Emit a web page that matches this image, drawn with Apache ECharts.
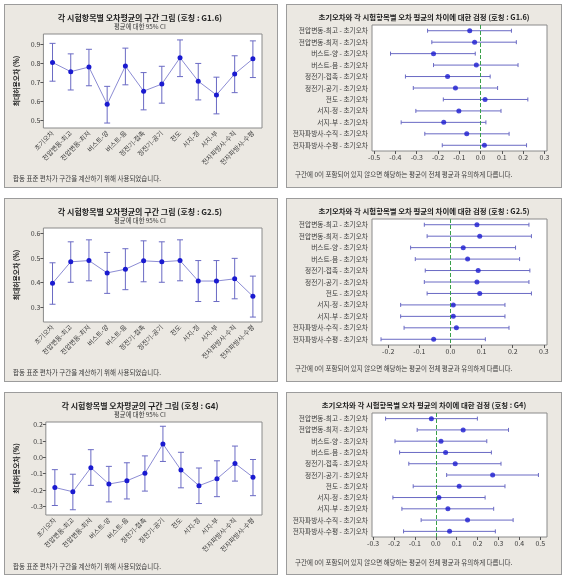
<!DOCTYPE html>
<html><head><meta charset="utf-8">
<script src="https://cdn.jsdelivr.net/npm/echarts@6/dist/echarts.min.js"></script>
<style>
html,body{margin:0;padding:0;background:#fff;width:568px;height:579px;overflow:hidden;}
.p{position:absolute;background:#ebe8e2;border:1px solid #9c9c9c;box-sizing:border-box;}
</style></head><body>
<div id="c1" class="p" style="left:4px;top:4px;width:274px;height:184px"></div>
<div id="c2" class="p" style="left:286px;top:4px;width:276px;height:184px"></div>
<div id="c3" class="p" style="left:4px;top:198px;width:274px;height:184px"></div>
<div id="c4" class="p" style="left:286px;top:198px;width:276px;height:184px"></div>
<div id="c5" class="p" style="left:4px;top:392px;width:274px;height:183px"></div>
<div id="c6" class="p" style="left:286px;top:392px;width:276px;height:183px"></div>
<script>
const categories = ['초기오차','전압변동-최고','전압변동-최저','버스트-양','버스트-음','정전기-접촉','정전기-공기','전도','서지-정','서지-부','전자파방사-수직','전자파방사-수평'];
const diffLabels = ['전압변동-최고 - 초기오차','전압변동-최저 - 초기오차','버스트-양 - 초기오차','버스트-음 - 초기오차','정전기-접촉 - 초기오차','정전기-공기 - 초기오차','전도 - 초기오차','서지-정 - 초기오차','서지-부 - 초기오차','전자파방사-수직 - 초기오차','전자파방사-수평 - 초기오차'];

// G1.6 interval plot
const g16Mean = [0.803,0.755,0.779,0.584,0.784,0.653,0.690,0.828,0.705,0.633,0.743,0.822];
const g16Lo   = [0.705,0.659,0.681,0.486,0.686,0.555,0.590,0.729,0.607,0.534,0.645,0.724];
const g16Hi   = [0.903,0.848,0.872,0.678,0.878,0.750,0.783,0.921,0.798,0.726,0.838,0.916];
const g16Ticks = [0.5,0.6,0.7,0.8,0.9];
// G1.6 differences
const g16DMean = [-0.051,-0.028,-0.221,-0.020,-0.155,-0.118,0.021,-0.102,-0.173,-0.065,0.018];
const g16DLo   = [-0.249,-0.229,-0.423,-0.221,-0.353,-0.316,-0.175,-0.304,-0.373,-0.262,-0.180];
const g16DHi   = [0.145,0.168,-0.025,0.176,0.045,0.080,0.222,0.096,0.025,0.134,0.216];
const g16DTicks = [-0.5,-0.4,-0.3,-0.2,-0.1,0.0,0.1,0.2,0.3];

// G2.5 interval plot
const g25Mean = [0.397,0.484,0.489,0.439,0.454,0.488,0.484,0.489,0.406,0.406,0.415,0.344];
const g25Lo   = [0.312,0.401,0.407,0.356,0.371,0.403,0.401,0.407,0.323,0.323,0.334,0.260];
const g25Hi   = [0.480,0.565,0.573,0.522,0.537,0.569,0.565,0.573,0.489,0.489,0.498,0.426];
const g25Ticks = [0.3,0.4,0.5,0.6];
// G2.5 differences
const g25DMean = [0.085,0.094,0.041,0.055,0.089,0.085,0.094,0.009,0.009,0.019,-0.054];
const g25DLo   = [-0.084,-0.075,-0.128,-0.113,-0.081,-0.084,-0.075,-0.160,-0.160,-0.149,-0.223];
const g25DHi   = [0.252,0.260,0.209,0.222,0.255,0.252,0.260,0.175,0.175,0.188,0.112];
const g25DTicks = [-0.2,-0.1,0.0,0.1,0.2,0.3];

// G4 interval plot
const g4Mean = [-0.184,-0.210,-0.063,-0.163,-0.143,-0.097,0.082,-0.077,-0.173,-0.131,-0.037,-0.121];
const g4Lo   = [-0.294,-0.320,-0.171,-0.272,-0.254,-0.206,-0.025,-0.186,-0.282,-0.240,-0.145,-0.234];
const g4Hi   = [-0.075,-0.103,0.047,-0.055,-0.033,0.009,0.190,0.031,-0.065,-0.021,0.069,-0.013];
const g4Ticks = [-0.3,-0.2,-0.1,0.0,0.1,0.2];
// G4 differences
const g4DMean = [-0.021,0.131,0.025,0.047,0.093,0.272,0.112,0.015,0.058,0.152,0.066];
const g4DLo   = [-0.240,-0.089,-0.195,-0.173,-0.129,0.052,-0.108,-0.205,-0.162,-0.070,-0.154];
const g4DHi   = [0.199,0.348,0.244,0.266,0.312,0.491,0.331,0.236,0.277,0.370,0.285];
const g4DTicks = [-0.3,-0.2,-0.1,0.0,0.1,0.2,0.3,0.4,0.5];

const FONT = "'Noto Sans CJK KR', 'Noto Sans', sans-serif";
const DOT = '#1a1ad0';
const BAR = '#6a6ac4';
const LINE = '#8c8cd4';
const TXT = '#3a3a3a';
const leftNote = '합동 표준 편차가 구간을 계산하기 위해 사용되었습니다.';
const rightNote = '구간에 0이 포함되어 있지 않으면 해당하는 평균이 전체 평균과 유의하게 다릅니다.';

function txt(x, y, s, size, bold, align) {
  return {type:'text', x:x, y:y, silent:true,
    style:{text:s, fontSize:size, fontWeight:bold?'bold':'normal', fill:bold?'#222':TXT, fontFamily:FONT,
      textAlign:align||'left', textVerticalAlign:'middle'}};
}

function leftChart(id, code, mean, lo, hi, yMin, yMax, ticks) {
  const ch = echarts.init(document.getElementById(id), null, {renderer:'canvas'});
  ch.setOption({
    animation:false,
    textStyle:{fontFamily:FONT},
    graphic:[
      txt(135, 13, '각 시험항목별 오차평균의 구간 그림 (호칭 : ' + code + ')', 8, true, 'center'),
      txt(135, 21.5, '평균에 대한 95% CI', 6.3, false, 'center'),
      txt(8, 174, leftNote, 6.5, false, 'left')
    ],
    grid:{left:29, right:15, top:29, bottom:59, show:true, backgroundColor:'#fff', borderColor:'#8a8a8a', borderWidth:1},
    xAxis:{type:'category', data:categories, boundaryGap:true,
      axisLine:{show:false}, axisTick:{alignWithLabel:true, length:3, lineStyle:{color:'#555'}},
      axisLabel:{rotate:45, fontSize:6.6, color:TXT, margin:4, interval:0, fontFamily:FONT}},
    yAxis:{type:'value', min:yMin, max:yMax, splitLine:{show:false},
      name:'최대허용오차 (%)', nameLocation:'middle', nameGap:17, nameRotate:90,
      nameTextStyle:{fontSize:6.8, fontWeight:'bold', color:'#222', fontFamily:FONT},
      axisLine:{show:false}, axisTick:{show:true, length:3, customValues:ticks, lineStyle:{color:'#555'}},
      axisLabel:{customValues:ticks, fontSize:7, color:TXT, margin:3, formatter:v=>(+v).toFixed(1)}},
    series:[
      {type:'line', data:mean, symbol:'circle', symbolSize:5, lineStyle:{color:LINE, width:1},
        itemStyle:{color:DOT}, z:3},
      {type:'custom', z:2, data:categories.map((c,i)=>[i, lo[i], hi[i]]),
        renderItem:function(params, api){
          const a = api.coord([api.value(0), api.value(1)]);
          const b = api.coord([api.value(0), api.value(2)]);
          const w = 3;
          const st = {stroke:BAR, lineWidth:1};
          return {type:'group', children:[
            {type:'line', shape:{x1:a[0], y1:a[1], x2:b[0], y2:b[1]}, style:st},
            {type:'line', shape:{x1:a[0]-w, y1:a[1], x2:a[0]+w, y2:a[1]}, style:st},
            {type:'line', shape:{x1:b[0]-w, y1:b[1], x2:b[0]+w, y2:b[1]}, style:st}
          ]};
        }}
    ]
  });
}

function rightChart(id, code, mean, lo, hi, xMin, xMax, ticks, bottom) {
  const ch = echarts.init(document.getElementById(id), null, {renderer:'canvas'});
  ch.setOption({
    animation:false,
    textStyle:{fontFamily:FONT},
    graphic:[
      txt(137, 12, '초기오차와 각 시험항목별 오차 평균의 차이에 대한 검정 (호칭 : ' + code + ')', 7.4, true, 'center'),
      txt(8, 170, rightNote, 6.5, false, 'left')
    ],
    grid:{left:85, right:14, top:20, bottom:bottom, show:true, backgroundColor:'#fff', borderColor:'#8a8a8a', borderWidth:1},
    yAxis:{type:'category', data:diffLabels, inverse:true, boundaryGap:true,
      axisLine:{show:false}, axisTick:{alignWithLabel:true, length:3, lineStyle:{color:'#555'}},
      axisLabel:{fontSize:6.7, color:TXT, margin:4, interval:0, fontFamily:FONT}},
    xAxis:{type:'value', min:xMin, max:xMax, splitLine:{show:false},
      axisLine:{show:false}, axisTick:{show:true, length:3, customValues:ticks, lineStyle:{color:'#555'}},
      axisLabel:{customValues:ticks, fontSize:7, color:TXT, margin:3, formatter:v=>(+v).toFixed(1)}},
    series:[
      {type:'scatter', data:mean.map((m,i)=>[m,i]), symbol:'circle', symbolSize:5, itemStyle:{color:DOT}, z:3,
        markLine:{silent:true, symbol:'none', label:{show:false},
          lineStyle:{color:'#3aa04a', type:'dashed', width:1}, data:[{xAxis:0}]}},
      {type:'custom', z:2, data:mean.map((m,i)=>[i, lo[i], hi[i]]),
        renderItem:function(params, api){
          const a = api.coord([api.value(1), api.value(0)]);
          const b = api.coord([api.value(2), api.value(0)]);
          const h = 2;
          const st = {stroke:BAR, lineWidth:1};
          return {type:'group', children:[
            {type:'line', shape:{x1:a[0], y1:a[1], x2:b[0], y2:b[1]}, style:st},
            {type:'line', shape:{x1:a[0], y1:a[1]-h, x2:a[0], y2:a[1]+h}, style:st},
            {type:'line', shape:{x1:b[0], y1:b[1]-h, x2:b[0], y2:b[1]+h}, style:st}
          ]};
        }}
    ]
  });
}

leftChart('c1','G1.6', g16Mean, g16Lo, g16Hi, 0.46, 0.952, g16Ticks);
rightChart('c2','G1.6', g16DMean, g16DLo, g16DHi, -0.51, 0.312, g16DTicks, 36);
leftChart('c3','G2.5', g25Mean, g25Lo, g25Hi, 0.24, 0.621, g25Ticks);
rightChart('c4','G2.5', g25DMean, g25DLo, g25DHi, -0.252, 0.31, g25DTicks, 36);
leftChart('c5','G4', g4Mean, g4Lo, g4Hi, -0.352, 0.216, g4Ticks);
rightChart('c6','G4', g4DMean, g4DLo, g4DHi, -0.305, 0.532, g4DTicks, 37);
</script></body></html>
